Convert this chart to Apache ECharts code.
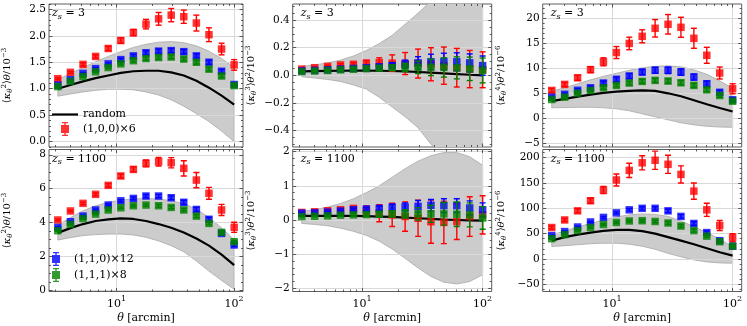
<!DOCTYPE html>
<html>
<head>
<meta charset="utf-8">
<title>kappa moments</title>
<script src="https://cdn.jsdelivr.net/npm/echarts@6.0.0/dist/echarts.min.js"></script>
<style>
  html, body { margin: 0; padding: 0; background: #fff; }
  #chart { width: 747px; height: 326px; }
</style>
</head>
<body>
<div id="chart"></div>
<script>
// angular bins [arcmin]
var theta = [3.162, 4.047, 5.179, 6.629, 8.483, 10.86, 13.89, 17.78, 22.76, 29.13, 37.28, 47.71, 61.05, 78.14, 100.0];

// x ticks
var xMajor = [10, 100];
var xMinor = [3, 4, 5, 6, 7, 8, 9, 20, 30, 40, 50, 60, 70, 80, 90];

// z_s = 3, <k^2> theta / 1e-3
var z3k2Random = [1.00, 1.07, 1.14, 1.20, 1.25, 1.30, 1.33, 1.34, 1.34, 1.31, 1.25, 1.15, 1.02, 0.87, 0.70];
var z3k2Lo = [0.86, 0.90, 0.94, 0.97, 0.99, 0.99, 0.98, 0.94, 0.88, 0.79, 0.67, 0.53, 0.38, 0.20, 0.00];
var z3k2Hi = [1.17, 1.29, 1.40, 1.51, 1.61, 1.70, 1.78, 1.84, 1.88, 1.89, 1.87, 1.81, 1.71, 1.57, 1.40];
var z3k2Red = [1.19, 1.31, 1.46, 1.61, 1.76, 1.91, 2.06, 2.22, 2.32, 2.39, 2.36, 2.24, 2.02, 1.75, 1.45];
var z3k2RedErr = [0.02, 0.02, 0.03, 0.03, 0.04, 0.05, 0.06, 0.09, 0.12, 0.125, 0.125, 0.15, 0.13, 0.11, 0.10];
var z3k2Blue = [1.07, 1.17, 1.29, 1.38, 1.47, 1.55, 1.62, 1.68, 1.71, 1.72, 1.70, 1.62, 1.50, 1.33, 1.08];
var z3k2BlueErr = [0.01, 0.01, 0.015, 0.02, 0.02, 0.025, 0.03, 0.035, 0.04, 0.04, 0.04, 0.04, 0.04, 0.035, 0.03];
var z3k2Green = [1.04, 1.14, 1.23, 1.32, 1.40, 1.47, 1.53, 1.57, 1.59, 1.60, 1.56, 1.50, 1.37, 1.24, 1.06];
var z3k2GreenErr = [0.01, 0.01, 0.01, 0.015, 0.02, 0.02, 0.025, 0.03, 0.03, 0.035, 0.035, 0.035, 0.035, 0.03, 0.03];

// z_s = 3, <k^3> theta^2 / 1e-3
var z3k3Random = [0.028, 0.030, 0.032, 0.033, 0.034, 0.034, 0.033, 0.031, 0.028, 0.024, 0.019, 0.014, 0.009, 0.004, 0.000];
var z3k3Lo = [-0.01, -0.02, -0.03, -0.045, -0.07, -0.10, -0.16, -0.23, -0.30, -0.38, -0.50, -0.58, -0.64, -0.68, -0.70];
var z3k3Hi = [0.065, 0.075, 0.09, 0.11, 0.14, 0.18, 0.23, 0.29, 0.37, 0.45, 0.54, 0.62, 0.68, 0.72, 0.73];
var z3k3Red = [0.045, 0.055, 0.065, 0.075, 0.08, 0.088, 0.092, 0.088, 0.085, 0.085, 0.08, 0.07, 0.055, 0.045, 0.04];
var z3k3RedErr = [0.005, 0.006, 0.008, 0.01, 0.012, 0.02, 0.035, 0.06, 0.08, 0.105, 0.12, 0.135, 0.14, 0.135, 0.13];
var z3k3Blue = [0.032, 0.036, 0.04, 0.045, 0.05, 0.055, 0.062, 0.07, 0.08, 0.09, 0.098, 0.10, 0.098, 0.09, 0.07];
var z3k3BlueErr = [0.003, 0.004, 0.005, 0.006, 0.008, 0.01, 0.015, 0.02, 0.03, 0.045, 0.055, 0.06, 0.065, 0.065, 0.07];
var z3k3Green = [0.027, 0.031, 0.035, 0.04, 0.044, 0.048, 0.052, 0.055, 0.057, 0.058, 0.058, 0.057, 0.054, 0.047, 0.035];
var z3k3GreenErr = [0.003, 0.004, 0.005, 0.006, 0.008, 0.01, 0.015, 0.02, 0.03, 0.045, 0.06, 0.07, 0.08, 0.085, 0.09];

// z_s = 3, <k^4> theta^2 / 1e-6
var z3k4Random = [3.42, 3.9, 4.35, 4.75, 5.1, 5.35, 5.5, 5.6, 5.5, 5.0, 4.4, 3.6, 2.8, 2.05, 1.35];
var z3k4Lo = [2.1, 2.15, 2.2, 2.2, 2.1, 1.9, 1.5, 0.9, 0.3, -0.3, -0.9, -1.3, -1.6, -1.75, -1.8];
var z3k4Hi = [5.4, 6.1, 6.9, 7.7, 8.4, 9.0, 9.6, 10.1, 10.4, 10.5, 10.3, 9.7, 8.8, 7.5, 6.0];
var z3k4Red = [5.57, 6.78, 8.1, 9.73, 11.3, 13.15, 14.97, 16.4, 18.0, 18.8, 18.2, 16.0, 12.6, 9.06, 5.9];
var z3k4RedErr = [0.4, 0.4, 0.5, 0.6, 0.8, 1.2, 1.25, 1.3, 1.75, 1.95, 2.0, 2.0, 1.6, 1.2, 1.0];
var z3k4Blue = [4.2, 4.8, 5.6, 6.1, 7.05, 7.8, 8.45, 9.25, 9.6, 9.6, 9.25, 8.25, 6.9, 5.2, 3.7];
var z3k4BlueErr = [0.2, 0.25, 0.3, 0.35, 0.4, 0.45, 0.5, 0.55, 0.6, 0.65, 0.65, 0.6, 0.55, 0.45, 0.4];
var z3k4Green = [3.76, 4.23, 5.03, 5.57, 6.1, 6.58, 7.05, 7.38, 7.58, 7.45, 7.11, 6.58, 5.7, 4.56, 3.42];
var z3k4GreenErr = [0.15, 0.2, 0.2, 0.25, 0.3, 0.3, 0.35, 0.4, 0.4, 0.45, 0.45, 0.4, 0.4, 0.35, 0.3];

// z_s = 1100, <k^2> theta / 1e-3
var zcK2Random = [3.4, 3.68, 3.92, 4.1, 4.2, 4.25, 4.22, 4.1, 3.92, 3.7, 3.42, 3.07, 2.65, 2.12, 1.5];
var zcK2Lo = [2.98, 3.12, 3.24, 3.3, 3.33, 3.33, 3.28, 3.14, 2.93, 2.65, 2.29, 1.75, 1.15, 0.6, 0.08];
var zcK2Hi = [3.86, 4.3, 4.7, 5.0, 5.2, 5.33, 5.4, 5.43, 5.4, 5.3, 5.12, 4.8, 4.3, 3.7, 3.0];
var zcK2Red = [4.16, 4.69, 5.14, 5.67, 6.2, 6.75, 7.14, 7.49, 7.59, 7.53, 7.2, 6.51, 5.73, 4.75, 3.73];
var zcK2RedErr = [0.05, 0.05, 0.07, 0.08, 0.1, 0.12, 0.15, 0.2, 0.25, 0.3, 0.45, 0.45, 0.35, 0.33, 0.3];
var zcK2Blue = [3.72, 4.06, 4.39, 4.75, 5.04, 5.29, 5.43, 5.57, 5.57, 5.47, 5.2, 4.78, 4.2, 3.37, 2.69];
var zcK2BlueErr = [0.04, 0.04, 0.05, 0.05, 0.06, 0.07, 0.08, 0.09, 0.1, 0.11, 0.12, 0.12, 0.12, 0.11, 0.1];
var zcK2Green = [3.53, 3.9, 4.24, 4.51, 4.75, 4.88, 5.0, 5.04, 5.0, 4.9, 4.75, 4.39, 3.96, 3.43, 2.88];
var zcK2GreenErr = [0.03, 0.03, 0.04, 0.04, 0.05, 0.05, 0.06, 0.07, 0.08, 0.08, 0.09, 0.09, 0.09, 0.08, 0.08];

// z_s = 1100, <k^3> theta^2 / 1e-3
var zcK3Random = [0.12, 0.12, 0.12, 0.12, 0.12, 0.11, 0.10, 0.09, 0.07, 0.05, 0.03, 0.01, 0.0, -0.01, -0.02];
var zcK3Lo = [-0.1, -0.13, -0.17, -0.24, -0.33, -0.45, -0.62, -0.85, -1.12, -1.4, -1.65, -1.82, -1.87, -1.8, -1.6];
var zcK3Hi = [0.25, 0.3, 0.38, 0.48, 0.62, 0.8, 1.0, 1.25, 1.5, 1.72, 1.88, 1.97, 1.97, 1.85, 1.6];
var zcK3Red = [0.22, 0.24, 0.27, 0.3, 0.34, 0.27, 0.2, 0.15, 0.1, 0.05, -0.05, -0.07, -0.05, 0.1, 0.15];
var zcK3RedErr = [0.01, 0.01, 0.02, 0.03, 0.04, 0.14, 0.25, 0.34, 0.43, 0.53, 0.63, 0.62, 0.52, 0.58, 0.56];
var zcK3Blue = [0.2, 0.21, 0.23, 0.26, 0.3, 0.32, 0.34, 0.37, 0.38, 0.4, 0.43, 0.42, 0.42, 0.35, 0.3];
var zcK3BlueErr = [0.01, 0.01, 0.02, 0.03, 0.04, 0.05, 0.07, 0.09, 0.12, 0.17, 0.17, 0.2, 0.2, 0.21, 0.2];
var zcK3Green = [0.1, 0.11, 0.12, 0.14, 0.15, 0.16, 0.17, 0.18, 0.18, 0.18, 0.18, 0.18, 0.17, 0.15, 0.06];
var zcK3GreenErr = [0.01, 0.01, 0.02, 0.03, 0.04, 0.05, 0.07, 0.09, 0.12, 0.18, 0.25, 0.33, 0.36, 0.35, 0.33];

// z_s = 1100, <k^4> theta^2 / 1e-6
var zcK4Random = [36, 43, 48, 52, 55.5, 57.5, 57.5, 55, 50, 43, 36, 29, 21, 13, 6.5];
var zcK4Lo = [24.5, 26, 28, 30, 31, 31, 29, 25, 19, 11, 4, -2, -6, -8, -8.6];
var zcK4Hi = [47.7, 55, 63, 70, 77, 83, 87, 89, 88, 84, 75, 64, 52, 39, 24];
var zcK4Red = [62, 77, 95, 115, 136, 156, 175, 190, 195, 187, 167, 134, 97, 66, 42];
var zcK4RedErr = [3, 3, 4, 5, 7, 12, 14, 14, 18, 18, 17, 16, 13, 10, 8];
var zcK4Blue = [46, 54, 63, 73, 82, 91, 97, 100, 100, 95, 84, 70, 52, 36, 25];
var zcK4BlueErr = [1, 1, 1.5, 1.5, 2, 2, 2.5, 3, 3, 3.5, 3.5, 3.5, 3, 3, 2.5];
var zcK4Green = [40, 48, 56, 62, 68, 72, 75, 75.5, 74, 71, 65, 56, 45, 34, 25];
var zcK4GreenErr = [1, 1, 1, 1.5, 1.5, 2, 2, 2.5, 2.5, 3, 3, 3, 2.5, 2.5, 2];

// y ticks
var z3k2Ticks = [0, 0.5, 1, 1.5, 2, 2.5];
var z3k3Ticks = [-0.4, -0.2, 0, 0.2, 0.4];
var z3k4Ticks = [-5, 0, 5, 10, 15, 20];
var zcK2Ticks = [0, 2, 4, 6, 8];
var zcK3Ticks = [-2, -1, 0, 1, 2];
var zcK4Ticks = [-50, 0, 50, 100, 150, 200];

var FONT = 'DejaVu Serif';
var RED = '#ff0000', BLUE = '#0000ff', GREEN = '#008000';
var NAME_RED = '(1,0,0)\u00d76', NAME_BLUE = '(1,1,0)\u00d712', NAME_GREEN = '(1,1,1)\u00d78';

var colLeft = [44, 292.7, 542.7], plotW = 199;
var rowTop = [4, 149.5], rowH = [143, 142];
var xMin = 2.66, xMax = 118.9;

var panels = [
  { zs: '3', ylab: '{u|\u27e8}{i|\u03ba}{s|\u03b8}{p|2}{u|\u27e9}{i|\u03b8}{u|/10}{p|\u22123}',
    min: -0.1, max: 2.6, ticks: z3k2Ticks, minorStep: 0.1, dec: 1,
    random: z3k2Random, lo: z3k2Lo, hi: z3k2Hi, red: z3k2Red, redErr: z3k2RedErr,
    blue: z3k2Blue, blueErr: z3k2BlueErr, green: z3k2Green, greenErr: z3k2GreenErr },
  { zs: '3', ylab: '{u|\u27e8}{i|\u03ba}{s|\u03b8}{p|3}{u|\u27e9}{i|\u03b8}{p|2}{u|/10}{p|\u22123}',
    min: -0.52, max: 0.517, ticks: z3k3Ticks, minorStep: 0.05, dec: 1,
    random: z3k3Random, lo: z3k3Lo, hi: z3k3Hi, red: z3k3Red, redErr: z3k3RedErr,
    blue: z3k3Blue, blueErr: z3k3BlueErr, green: z3k3Green, greenErr: z3k3GreenErr },
  { zs: '3', ylab: '{u|\u27e8}{i|\u03ba}{s|\u03b8}{p|4}{u|\u27e9}{i|\u03b8}{p|2}{u|/10}{p|\u22126}',
    min: -5.74, max: 22.86, ticks: z3k4Ticks, minorStep: 1, dec: 0,
    random: z3k4Random, lo: z3k4Lo, hi: z3k4Hi, red: z3k4Red, redErr: z3k4RedErr,
    blue: z3k4Blue, blueErr: z3k4BlueErr, green: z3k4Green, greenErr: z3k4GreenErr },
  { zs: '1100', ylab: '{u|\u27e8}{i|\u03ba}{s|\u03b8}{p|2}{u|\u27e9}{i|\u03b8}{u|/10}{p|\u22123}',
    min: -0.05, max: 8.31, ticks: zcK2Ticks, minorStep: 0.5, dec: 0,
    random: zcK2Random, lo: zcK2Lo, hi: zcK2Hi, red: zcK2Red, redErr: zcK2RedErr,
    blue: zcK2Blue, blueErr: zcK2BlueErr, green: zcK2Green, greenErr: zcK2GreenErr },
  { zs: '1100', ylab: '{u|\u27e8}{i|\u03ba}{s|\u03b8}{p|3}{u|\u27e9}{i|\u03b8}{p|2}{u|/10}{p|\u22123}',
    min: -2.09, max: 2.06, ticks: zcK3Ticks, minorStep: 0.2, dec: 0,
    random: zcK3Random, lo: zcK3Lo, hi: zcK3Hi, red: zcK3Red, redErr: zcK3RedErr,
    blue: zcK3Blue, blueErr: zcK3BlueErr, green: zcK3Green, greenErr: zcK3GreenErr },
  { zs: '1100', ylab: '{u|\u27e8}{i|\u03ba}{s|\u03b8}{p|4}{u|\u27e9}{i|\u03b8}{p|2}{u|/10}{p|\u22126}',
    min: -64.5, max: 216.3, ticks: zcK4Ticks, minorStep: 10, dec: 0,
    random: zcK4Random, lo: zcK4Lo, hi: zcK4Hi, red: zcK4Red, redErr: zcK4RedErr,
    blue: zcK4Blue, blueErr: zcK4BlueErr, green: zcK4Green, greenErr: zcK4GreenErr }
];

var nameRich = {
  u: { fontFamily: FONT, fontSize: 10, lineHeight: 13, color: '#000' },
  i: { fontFamily: FONT, fontSize: 10, fontStyle: 'italic', lineHeight: 13, color: '#000' },
  s: { fontFamily: FONT, fontSize: 7, fontStyle: 'italic', lineHeight: 8, verticalAlign: 'bottom', color: '#000' },
  p: { fontFamily: FONT, fontSize: 7, lineHeight: 8, verticalAlign: 'top', color: '#000' }
};
var tickRich = {
  b: { fontFamily: FONT, fontSize: 11, lineHeight: 15, verticalAlign: 'bottom', color: '#000' },
  e: { fontFamily: FONT, fontSize: 8, lineHeight: 9, verticalAlign: 'top', color: '#000' }
};

// legend glyphs: errorbar + square, and a plain line
var ERR_ICON = 'path://M0,3H8V11H0Z M3.3,0H4.7V14H3.3Z M1,0H7V1.3H1Z M1,12.7H7V14H1Z';
var LINE_ICON = 'path://M0,0H26V2.2H0Z';

function minorTicks(lo, hi, major, step) {
  var out = [];
  for (var n = Math.ceil(lo / step - 1e-9); n * step <= hi + 1e-9; n++) {
    var v = +(n * step).toFixed(6);
    var isMajor = major.some(function (m) { return Math.abs(m - v) < 1e-9; });
    if (!isMajor) out.push(v);
  }
  return out;
}

function pairs(ys) {
  return theta.map(function (t, i) { return [t, ys[i]]; });
}
function triples(a, b) {
  return theta.map(function (t, i) { return [t, a[i], b[i]]; });
}

function renderErr(params, api) {
  var x = api.value(0), y = api.value(1), e = api.value(2);
  var top = api.coord([x, y + e]);
  var bot = api.coord([x, y - e]);
  var st = { stroke: api.visual('color'), lineWidth: 1.4 };
  return {
    type: 'group',
    children: [
      { type: 'line', shape: { x1: top[0], y1: top[1], x2: bot[0], y2: bot[1] }, style: st },
      { type: 'line', shape: { x1: top[0] - 3, y1: top[1], x2: top[0] + 3, y2: top[1] }, style: st },
      { type: 'line', shape: { x1: bot[0] - 3, y1: bot[1], x2: bot[0] + 3, y2: bot[1] }, style: st }
    ]
  };
}

// whole band drawn once as one polygon (upper edge, then lower edge backwards)
function renderBand(params, api) {
  if (params.dataIndexInside !== 0) return;
  var up = [], low = [];
  for (var i = 0; i < params.dataInsideLength; i++) {
    up.push(api.coord([api.value(0, i), api.value(2, i)]));
    low.push(api.coord([api.value(0, i), api.value(1, i)]));
  }
  return {
    type: 'polygon',
    shape: { points: up.concat(low.reverse()) },
    style: { fill: '#cccccc', stroke: '#a8a8a8', lineWidth: 0.8 }
  };
}

var option = {
  animation: false,
  backgroundColor: '#fff',
  textStyle: { fontFamily: FONT },
  grid: [], xAxis: [], yAxis: [], series: [], legend: [], graphic: []
};

panels.forEach(function (p, k) {
  var col = k % 3, row = Math.floor(k / 3);
  option.grid.push({
    left: colLeft[col], top: rowTop[row], width: plotW, height: rowH[row],
    show: true, borderColor: '#333', borderWidth: 0.8, backgroundColor: 'transparent'
  });

  // x axes: bottom major / minor, top major / minor
  var xMain = option.xAxis.length;
  [['bottom', xMajor, 3.5, true], ['bottom', xMinor, 2, false],
   ['top', xMajor, 3.5, false], ['top', xMinor, 2, false]].forEach(function (a) {
    var labels = a[3] && row === 1;
    var ax = {
      type: 'log', logBase: 10, gridIndex: k, position: a[0], min: xMin, max: xMax, z: 1,
      axisLine: { show: false, onZero: false },
      axisTick: { show: true, inside: true, length: a[2], customValues: a[1], lineStyle: { color: '#333', width: 0.8 } },
      axisLabel: labels ? {
        show: true, customValues: xMajor, margin: 3,
        formatter: function (v) { return '{b|10}{e|' + Math.round(Math.log10(v)) + '}'; },
        rich: tickRich
      } : { show: false },
      splitLine: { show: a[3], lineStyle: { color: '#d9d9d9', width: 1 } },
      minorTick: { show: false }, minorSplitLine: { show: false }
    };
    if (labels) {
      ax.name = '{i|\u03b8}{u| [arcmin]}';
      ax.nameLocation = 'middle';
      ax.nameGap = 21;
      ax.nameTextStyle = { rich: { i: { fontFamily: FONT, fontSize: 11, fontStyle: 'italic', color: '#000' },
                                   u: { fontFamily: FONT, fontSize: 11, color: '#000' } } };
    }
    option.xAxis.push(ax);
  });

  // y axes: left major / minor, right major / minor
  var yMain = option.yAxis.length;
  var yMinor = minorTicks(p.min, p.max, p.ticks, p.minorStep);
  [['left', p.ticks, 3.5, true], ['left', yMinor, 2, false],
   ['right', p.ticks, 3.5, false], ['right', yMinor, 2, false]].forEach(function (a) {
    var ax = {
      type: 'value', gridIndex: k, position: a[0], min: p.min, max: p.max, z: 1,
      axisLine: { show: false, onZero: false },
      axisTick: { show: true, inside: true, length: a[2], customValues: a[1], lineStyle: { color: '#333', width: 0.8 } },
      axisLabel: a[3] ? {
        show: true, customValues: p.ticks, margin: 3, fontFamily: FONT, fontSize: 10.5, color: '#000',
        formatter: function (v) { return v.toFixed(p.dec).replace('-', '\u2212'); }
      } : { show: false },
      splitLine: { show: a[3], lineStyle: { color: '#d9d9d9', width: 1 } },
      minorTick: { show: false }, minorSplitLine: { show: false }
    };
    if (a[3]) {
      ax.name = p.ylab;
      ax.nameLocation = 'middle';
      ax.nameGap = 35;
      ax.nameTextStyle = { rich: nameRich };
    }
    option.yAxis.push(ax);
  });

  var base = { xAxisIndex: xMain, yAxisIndex: yMain, silent: true };
  function s(o) { for (var key in base) o[key] = base[key]; option.series.push(o); }

  s({ type: 'custom', name: 'band', renderItem: renderBand, data: triples(p.lo, p.hi),
      encode: { x: 0, y: [1, 2] }, clip: true, z: 0 });
  s({ type: 'line', name: 'random', data: pairs(p.random), symbol: 'none',
      lineStyle: { color: '#000', width: 2.2 }, itemStyle: { color: '#000' }, z: 2 });

  [[NAME_RED, RED, p.red, p.redErr], [NAME_BLUE, BLUE, p.blue, p.blueErr],
   [NAME_GREEN, GREEN, p.green, p.greenErr]].forEach(function (c, j) {
    s({ type: 'custom', name: 'err' + j, renderItem: renderErr, data: triples(c[2], c[3]),
        encode: { x: 0, y: 1 }, itemStyle: { color: c[1] }, clip: true, z: 3 + 2 * j });
    s({ type: 'scatter', name: c[0], data: pairs(c[2]), symbol: 'rect', symbolSize: 7.5,
        itemStyle: { color: c[1] }, z: 4 + 2 * j });
  });

  option.graphic.push({
    type: 'text', left: colLeft[col] + 8, top: rowTop[row] + 4, z: 10, silent: true,
    style: {
      text: '{i|z}{s|s}{n| = ' + p.zs + '}',
      rich: {
        i: { fontFamily: FONT, fontSize: 11, fontStyle: 'italic', lineHeight: 14, fill: '#000' },
        s: { fontFamily: FONT, fontSize: 8, fontStyle: 'italic', lineHeight: 9, verticalAlign: 'bottom', fill: '#000' },
        n: { fontFamily: FONT, fontSize: 11, lineHeight: 14, fill: '#000' }
      }
    }
  });
});

var legendBase = {
  orient: 'vertical', left: 52, itemWidth: 26, itemHeight: 14, itemGap: 2, padding: 0,
  selectedMode: false, textStyle: { fontFamily: FONT, fontSize: 11, color: '#000' }
};
option.legend.push(Object.assign({}, legendBase, {
  top: 109, data: [{ name: 'random', icon: LINE_ICON }, { name: NAME_RED, icon: ERR_ICON }]
}));
option.legend.push(Object.assign({}, legendBase, {
  top: 252, data: [{ name: NAME_BLUE, icon: ERR_ICON }, { name: NAME_GREEN, icon: ERR_ICON }]
}));

var chart = echarts.init(document.getElementById('chart'), null, { renderer: 'canvas' });
chart.setOption(option);
</script>
</body>
</html>
